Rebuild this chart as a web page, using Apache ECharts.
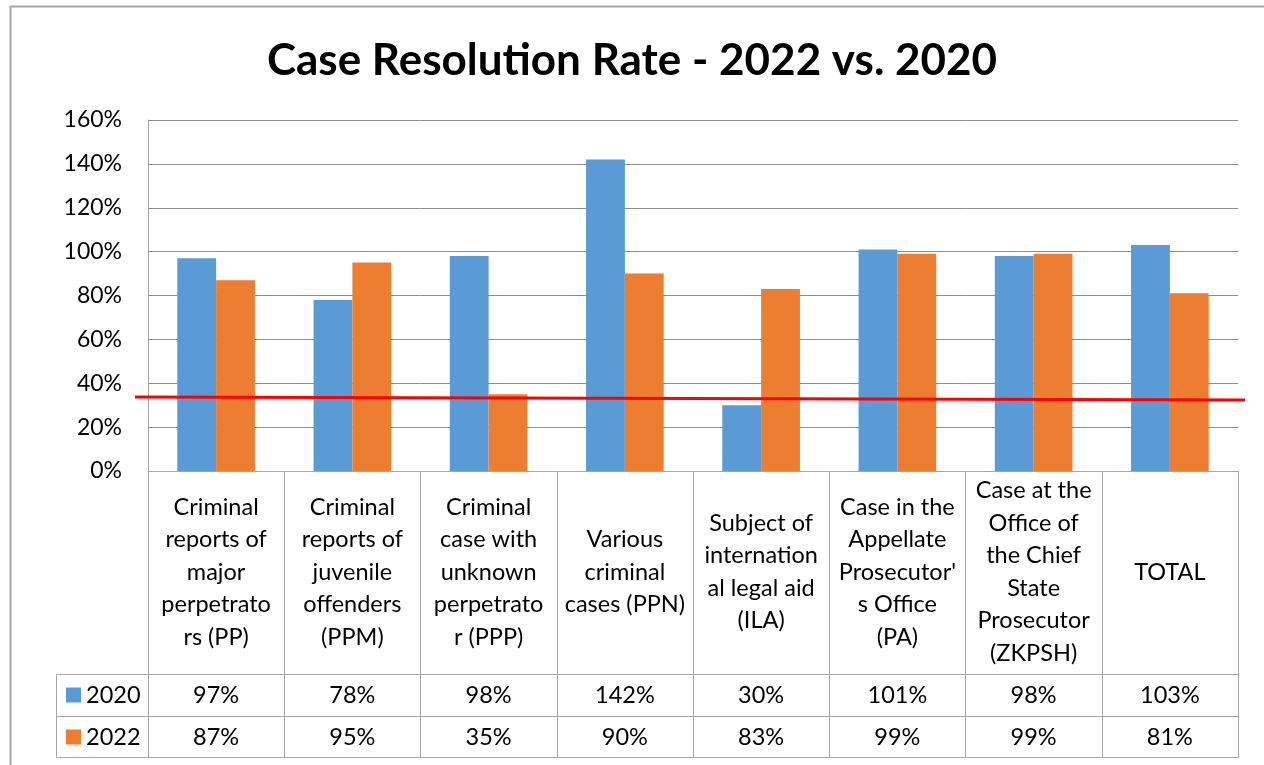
<!DOCTYPE html>
<html>
<head>
<meta charset="utf-8">
<script src="https://cdn.jsdelivr.net/npm/echarts@6/dist/echarts.min.js"></script>
<style>
html,body{margin:0;padding:0;background:#fff;}
#chart{width:1264px;height:765px;}
</style>
</head>
<body>
<div id="chart"></div>
<script>
// ---- data ----
var categories = [
  "Criminal reports of major perpetrators (PP)",
  "Criminal reports of juvenile offenders (PPM)",
  "Criminal case with unknown perpetrator (PPP)",
  "Various criminal cases (PPN)",
  "Subject of international legal aid (ILA)",
  "Case in the Appellate Prosecutor's Office (PA)",
  "Case at the Office of the Chief State Prosecutor (ZKPSH)",
  "TOTAL"
];
var tickLabels = [
  "Criminal\nreports of\nmajor\nperpetrato\nrs (PP)",
  "Criminal\nreports of\njuvenile\noffenders\n(PPM)",
  "Criminal\ncase with\nunknown\nperpetrato\nr (PPP)",
  "Various\ncriminal\ncases (PPN)",
  "Subject of\ninternation\nal legal aid\n(ILA)",
  "Case in the\nAppellate\nProsecutor'\ns Office\n(PA)",
  "Case at the\nOffice of\nthe Chief\nState\nProsecutor\n(ZKPSH)",
  "TOTAL"
];
var seriesNames = ["2020", "2022"];
var values2020 = [97, 78, 98, 142, 30, 101, 98, 103];
var values2022 = [87, 95, 35, 90, 83, 99, 99, 81];
var yTicks = { min: 0, max: 160, interval: 20 };
var redLine = [33.7, 32.4];   // hand-drawn red reference line (left end, right end), in %
var titleText = "Case Resolution Rate - 2022 vs. 2020";

// ---- layout ----
var FONT = "Lato, 'Liberation Sans', sans-serif";
var G = { left: 148, right: 26, top: 120, bottom: 294 };
var W = 1264, H = 765;
var axisBottom = H - G.bottom;      // 471
var row1 = 203, row2 = 245, row3 = 286; // offsets of table lines below axis
var lineCol = "#a6a6a6";
var FS = 23.5;

var chart = echarts.init(document.getElementById('chart'), null, { renderer: 'canvas' });

function valueAxis(offset, vals) {
  return {
    type: 'category', data: categories, position: 'bottom', offset: offset,
    axisLine: { show: true, lineStyle: { color: lineCol, width: 1 } },
    axisTick: { show: false },
    axisLabel: {
      show: !!vals, interval: 0, margin: 21, verticalAlign: 'middle',
      fontFamily: FONT, fontSize: FS, color: '#000',
      formatter: function (v, i) { return vals ? vals[i] + '%' : ''; }
    },
    splitLine: { show: false }
  };
}

var option = {
  animation: false,
  backgroundColor: '#fff',
  title: {
    text: titleText, left: 'center', top: 34,
    textStyle: { fontFamily: FONT, fontSize: 44, fontWeight: 'bold', color: '#000' }
  },
  legend: {
    data: seriesNames, orient: 'vertical', left: 66, top: 683,
    icon: 'rect', itemWidth: 15, itemHeight: 15, itemGap: 18, padding: 0, itemTextGap: 6,
    textStyle: { fontFamily: FONT, fontSize: FS, lineHeight: 24, color: '#000' },
    selectedMode: false
  },
  grid: { left: G.left, right: G.right, top: G.top, bottom: G.bottom, containLabel: false },
  xAxis: [
    {
      type: 'category', data: categories, position: 'bottom',
      axisLine: { show: true, lineStyle: { color: lineCol, width: 1 } },
      axisTick: { show: true, length: row3, lineStyle: { color: lineCol, width: 1 } },
      axisLabel: {
        interval: 0, margin: 101, verticalAlign: 'middle', align: 'center',
        fontFamily: FONT, fontSize: FS, lineHeight: 32.5, color: '#000',
        formatter: function (v, i) { return tickLabels[i]; }
      },
      splitLine: { show: false }
    },
    valueAxis(row1, values2020),
    valueAxis(row2, values2022),
    valueAxis(row3, null)
  ],
  yAxis: {
    type: 'value', min: yTicks.min, max: yTicks.max, interval: yTicks.interval,
    axisLine: { show: true, lineStyle: { color: lineCol } },
    axisTick: { show: false },
    axisLabel: { margin: 26, fontFamily: FONT, fontSize: 23, color: '#000', formatter: '{value}%' },
    splitLine: { show: true, lineStyle: { color: '#8c8c8c', width: 1 } }
  },
  series: [
    { name: seriesNames[0], type: 'bar', data: values2020, barGap: '0%', barCategoryGap: '43%',
      itemStyle: { color: '#5b9bd5' } },
    { name: seriesNames[1], type: 'bar', data: values2022, barGap: '0%', barCategoryGap: '43%',
      itemStyle: { color: '#ed7d31' } }
  ]
};
chart.setOption(option);

// decorations: outer border, table left column, red line
var yA = chart.convertToPixel({ yAxisIndex: 0 }, redLine[0]);
var yB = chart.convertToPixel({ yAxisIndex: 0 }, redLine[1]);
var colLeft = 56;
chart.setOption({
  graphic: [
    { type: 'rect', shape: { x: 10.5, y: 6.5, width: 1400, height: 900 },
      style: { fill: 'none', stroke: '#a6a6a6', lineWidth: 2 }, silent: true, z: 0 },
    { type: 'polyline', shape: { points: [[G.left, axisBottom + row1 + 0.5], [colLeft + 0.5, axisBottom + row1 + 0.5], [colLeft + 0.5, axisBottom + row3 + 0.5], [G.left, axisBottom + row3 + 0.5]] },
      style: { fill: 'none', stroke: lineCol, lineWidth: 1 }, silent: true },
    { type: 'line', shape: { x1: colLeft, y1: axisBottom + row2 + 0.5, x2: G.left, y2: axisBottom + row2 + 0.5 },
      style: { stroke: lineCol, lineWidth: 1 }, silent: true },
    { type: 'line', shape: { x1: G.left - 13, y1: yA, x2: W - G.right + 7, y2: yB },
      style: { stroke: '#ff0000', lineWidth: 3 }, silent: true, z: 100 }
  ]
});
</script>
</body>
</html>
